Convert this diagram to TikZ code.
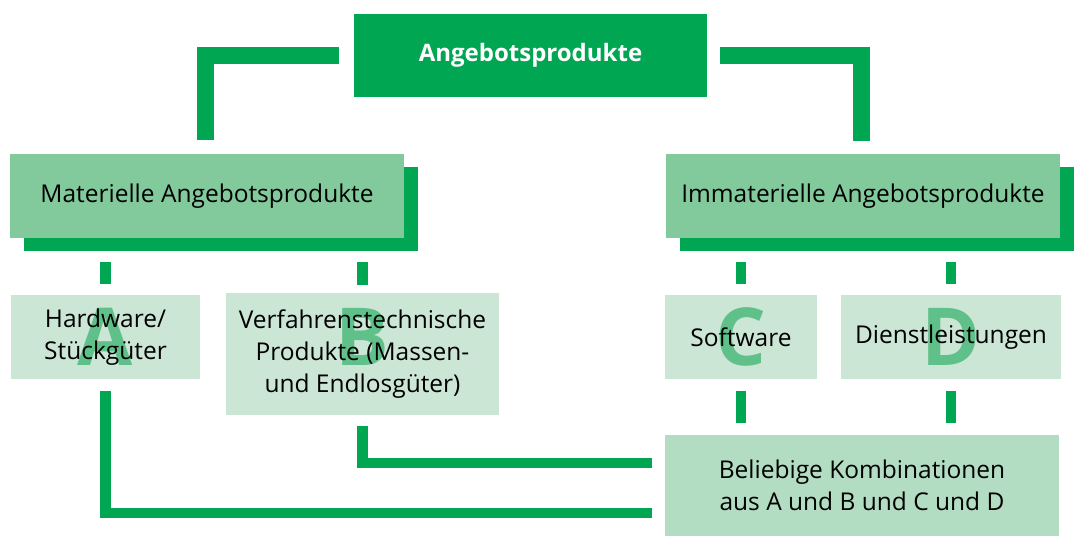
\documentclass[tikz,border=0pt]{standalone}
\usepackage{fontspec}
\setmainfont{Open Sans}
\usetikzlibrary{shadows}
\definecolor{dgreen}{HTML}{00A651}
\definecolor{midg}{HTML}{82CA9C}
\definecolor{lightg}{HTML}{CCE6D5}
\definecolor{combg}{HTML}{B3DDC2}
\definecolor{letterg}{HTML}{60C089}
\begin{document}
\begin{tikzpicture}[x=1pt,y=-1pt,
  base/.style={inner sep=0pt,outer sep=0pt,align=center,font=\fontsize{24.5}{32}\selectfont},
  topbox/.style={base,fill=dgreen,text=white,font=\fontsize{24}{32}\selectfont\bfseries},
  midbox/.style={base,fill=midg,drop shadow={shadow xshift=14pt,shadow yshift=-13pt,fill=dgreen,opacity=1}},
  leafbox/.style={base,fill=lightg},
  combbox/.style={base,fill=combg},
  letter/.style={inner sep=0pt,text=letterg,font=\fontsize{80}{80}\selectfont\bfseries},
  bigbar/.style={draw=dgreen,line width=17pt},
  bar/.style={draw=dgreen,line width=10.5pt}
]
\useasboundingbox (0,0) rectangle (1077,536);

\node[topbox,minimum width=353pt,minimum height=83pt] (top) at (530.5,55.5) {Angebotsprodukte};
\node[midbox,minimum width=394pt,minimum height=84pt] (mat) at (207,196) {Materielle Angebotsprodukte};
\node[midbox,minimum width=394pt,minimum height=84pt] (imm) at (863,196) {Immaterielle Angebotsprodukte};

\node[leafbox,minimum width=189pt,minimum height=84pt,
  path picture={\node[letter] (la) at (path picture bounding box.center) {A};}] (hw) at (105.5,337) {Hardware/\\Stückgüter};
\node[leafbox,minimum width=273pt,minimum height=122pt,
  path picture={\node[letter] (lb) at ([yshift=17pt]path picture bounding box.center) {B};}] (vf) at (362.5,354) {Verfahrenstechnische\\Produkte (Massen-\\und Endlosgüter)};
\node[leafbox,minimum width=152pt,minimum height=84pt,
  path picture={\node[letter] (lc) at (path picture bounding box.center) {C};}] (sw) at (741,337) {Software};
\node[leafbox,minimum width=220pt,minimum height=84pt,
  path picture={\node[letter] (ld) at (path picture bounding box.center) {D};}] (dl) at (951,337) {Dienstleistungen};
\node[combbox,minimum width=394pt,minimum height=101pt] (comb) at (862,485.5) {Beliebige Kombinationen\\aus A und B und C und D};

% top connectors
\coordinate (matin) at (205.5,154);
\coordinate (immin) at (861.5,154);
\draw[bigbar,shorten <=15pt,shorten >=14pt] (top.west) -| (matin);
\draw[bigbar,shorten <=13pt,shorten >=13pt] (top.east) -| (immin);

% stubs from category boxes
\draw[bar,shorten <=11pt,shorten >=24pt] (hw.north) -- (hw.north |- mat.south);
\draw[bar,shorten <=8pt,shorten >=24pt] (vf.north) -- (vf.north |- mat.south);
\draw[bar,shorten <=11pt,shorten >=24pt] (sw.north) -- (sw.north |- imm.south);
\draw[bar,shorten <=11pt,shorten >=24pt] (dl.north) -- (dl.north |- imm.south);

% stubs to combination box
\draw[bar,shorten <=12pt,shorten >=12pt] (sw.south) -- (sw.south |- comb.north);
\draw[bar,shorten <=12pt,shorten >=12pt] (dl.south) -- (dl.south |- comb.north);

% bottom connectors
\coordinate (ca) at (665,513);
\coordinate (cb) at (665,463);
\draw[bar,shorten <=12pt,shorten >=13pt] (hw.south) |- (ca);
\draw[bar,shorten <=11pt,shorten >=13pt] (vf.south) |- (cb);
\end{tikzpicture}
\end{document}
